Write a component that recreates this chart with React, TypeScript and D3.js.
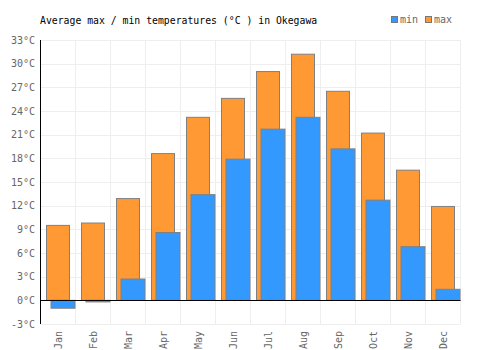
import React from 'react';
import * as d3 from 'd3';

const months = ['Jan', 'Feb', 'Mar', 'Apr', 'May', 'Jun', 'Jul', 'Aug', 'Sep', 'Oct', 'Nov', 'Dec'];
const maxTemps = [9.5, 9.8, 12.9, 18.6, 23.2, 25.6, 29.0, 31.2, 26.5, 21.2, 16.5, 11.9];
const minTemps = [-1.0, -0.2, 2.7, 8.6, 13.4, 17.9, 21.7, 23.2, 19.2, 12.7, 6.8, 1.4];
const yTicks = [-3, 0, 3, 6, 9, 12, 15, 18, 21, 24, 27, 30, 33];

const font = '"DejaVu Sans Mono", monospace';

export default function App() {
  const width = 500;
  const height = 350;
  const left = 40.5;
  const right = 460.5;
  const top = 40;
  const bottom = 324;

  const x = d3.scaleBand().domain(months).range([left, right]);
  const y = d3.scaleLinear().domain([-3, 33]).range([bottom, top]);
  const bw = x.bandwidth();

  // bar rect from 0 to value
  const barY = (v: number) => Math.min(y(0), y(v));
  const barH = (v: number) => Math.abs(y(v) - y(0));

  return (
    <svg width={width} height={height} style={{ position: 'absolute', left: 0, top: 0, background: '#fff' }}>
      <text x={40} y={24} fontFamily={font} fontSize={9.8} fill="#000">
        Average max / min temperatures (°C ) in Okegawa
      </text>

      {/* legend */}
      <rect x={391.5} y={16.5} width={6} height={6} fill="#3399ff" stroke="#777" />
      <text x={400} y={23} fontFamily={font} fontSize={10} fill="#666">min</text>
      <rect x={425.5} y={16.5} width={6} height={6} fill="#ff9933" stroke="#777" />
      <text x={434} y={23} fontFamily={font} fontSize={10} fill="#666">max</text>

      {/* grid */}
      {yTicks.map(t => (
        <line key={'h' + t} x1={left} x2={right} y1={Math.round(y(t)) + 0.5} y2={Math.round(y(t)) + 0.5} stroke="#eee" />
      ))}
      {months.map(m => (
        <line key={'v' + m} x1={(x(m) as number) + bw} x2={(x(m) as number) + bw} y1={top} y2={bottom} stroke="#eee" />
      ))}

      {/* max bars */}
      {maxTemps.map((v, i) => (
        <rect key={'mx' + i} x={(x(months[i]) as number) + 6} y={barY(v)} width={23} height={barH(v)}
          fill="#ff9933" stroke="#808080" strokeWidth={1} />
      ))}
      {/* min bars */}
      {minTemps.map((v, i) => (
        <rect key={'mn' + i} x={(x(months[i]) as number) + 10.5} y={barY(v)} width={24} height={barH(v)}
          fill="#3399ff" stroke="#808080" strokeWidth={1} />
      ))}

      {/* axes */}
      <line x1={left} x2={left} y1={top} y2={bottom} stroke="#000" />
      <line x1={left} x2={right} y1={Math.round(y(0)) + 0.5} y2={Math.round(y(0)) + 0.5} stroke="#000" />

      {yTicks.map(t => (
        <text key={'yt' + t} x={35} y={y(t) + 3.5} textAnchor="end" fontFamily={font} fontSize={10} fill="#666">
          {t}°C
        </text>
      ))}
      {months.map(m => {
        const cx = (x(m) as number) + bw / 2 + 3.5;
        return (
          <text key={'xt' + m} transform={`translate(${cx},331) rotate(-90)`} textAnchor="end"
            fontFamily={font} fontSize={10} fill="#666">
            {m}
          </text>
        );
      })}
    </svg>
  );
}
